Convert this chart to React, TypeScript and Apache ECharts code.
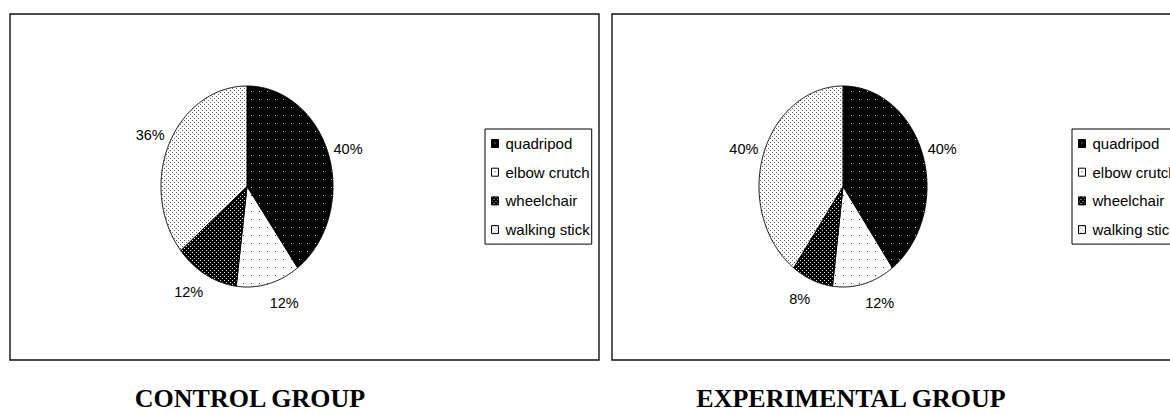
import React, { useEffect, useRef } from "react";
import * as echarts from "echarts";

// Mobility aid used, share of patients per group (%)
const categories = ["quadripod", "elbow crutch", "wheelchair", "walking stick"];
const controlValues = [40, 12, 12, 36];
const experimentalValues = [40, 12, 8, 40];
const groupTitles = ["CONTROL GROUP", "EXPERIMENTAL GROUP"];

const SANS = "'Liberation Sans', Arial, sans-serif";
const SERIF = "'Liberation Serif', 'Times New Roman', serif";

// Small dotted tiles used as fills for the slices
function makeTile(size: number, bg: string, dotColor: string, dots: number[][]) {
  const c = document.createElement("canvas");
  c.width = size;
  c.height = size;
  const ctx = c.getContext("2d")!;
  ctx.fillStyle = bg;
  ctx.fillRect(0, 0, size, size);
  ctx.fillStyle = dotColor;
  dots.forEach(([x, y]) => ctx.fillRect(x, y, 1, 1));
  return { image: c, repeat: "repeat" as const };
}

function buildFills() {
  return [
    makeTile(8, "#000000", "#d0d0d0", [[3, 3]]),
    makeTile(8, "#ffffff", "#404040", [[3, 3]]),
    makeTile(4, "#000000", "#e8e8e8", [[0, 0], [2, 2]]),
    makeTile(4, "#ffffff", "#606060", [[0, 0], [2, 2]]),
  ];
}

type Pie = { cx: number; cy: number; rx: number; ry: number };

function sliceSeries(values: number[], idx: number, pie: Pie, fill: any) {
  return {
    type: "custom",
    name: categories[idx],
    coordinateSystem: "none",
    silent: true,
    data: [values[idx]],
    itemStyle: { color: fill },
    renderItem: (_params: any, api: any) => {
      const total = values.reduce((a, b) => a + b, 0);
      const before = values.slice(0, idx).reduce((a, b) => a + b, 0);
      const v = api.value(0) as number;
      const a0 = (before / total) * Math.PI * 2;
      const a1 = ((before + v) / total) * Math.PI * 2;
      const pts: number[][] = [[pie.cx, pie.cy]];
      const steps = Math.max(2, Math.ceil(((a1 - a0) * 180) / Math.PI / 0.5));
      for (let i = 0; i <= steps; i++) {
        const a = a0 + ((a1 - a0) * i) / steps;
        pts.push([pie.cx + pie.rx * Math.sin(a), pie.cy - pie.ry * Math.cos(a)]);
      }
      const mid = (a0 + a1) / 2;
      const dx = Math.sin(mid);
      const dy = -Math.cos(mid);
      const ex = pie.cx + pie.rx * dx;
      const ey = pie.cy + pie.ry * dy;
      return {
        type: "group",
        children: [
          {
            type: "polygon",
            shape: { points: pts },
            style: { fill, stroke: "#000", lineWidth: 1 },
          },
          {
            type: "text",
            x: ex + 5 * dx,
            y: ey + 20 * dy,
            style: {
              text: `${v}%`,
              fill: "#000",
              font: `14.5px ${SANS}`,
              textAlign: dx >= 0 ? "left" : "right",
              textVerticalAlign: "middle",
            },
          },
        ],
      };
    },
  };
}

function legendFor(left: number) {
  return {
    orient: "vertical",
    left,
    top: 129,
    data: categories,
    icon: "rect",
    itemWidth: 7,
    itemHeight: 8,
    itemGap: 13.7,
    padding: [7, 2, 7, 6],
    borderColor: "#000",
    borderWidth: 1,
    selectedMode: false,
    itemStyle: { borderColor: "#000", borderWidth: 1 },
    textStyle: {
      color: "#000",
      fontSize: 15,
      fontFamily: SANS,
      padding: [0, 0, 0, 2],
    },
  };
}

export default function App() {
  const ref = useRef<HTMLDivElement>(null);

  useEffect(() => {
    if (!ref.current) return;
    const chart = echarts.init(ref.current, undefined, { renderer: "svg" });
    const fills = buildFills();
    const leftPie: Pie = { cx: 247, cy: 186.5, rx: 86, ry: 100.5 };
    const rightPie: Pie = { cx: 843, cy: 186.5, rx: 84, ry: 100.5 };

    const series = [
      ...categories.map((_, i) => sliceSeries(controlValues, i, leftPie, fills[i])),
      ...categories.map((_, i) => sliceSeries(experimentalValues, i, rightPie, fills[i])),
    ];

    chart.setOption({
      animation: false,
      backgroundColor: "#ffffff",
      legend: [legendFor(485), legendFor(1072)],
      graphic: [
        {
          type: "rect",
          shape: { x: 10, y: 14, width: 589, height: 346 },
          style: { fill: "none", stroke: "#111", lineWidth: 1.4 },
        },
        {
          type: "rect",
          shape: { x: 612, y: 14, width: 600, height: 346 },
          style: { fill: "none", stroke: "#111", lineWidth: 1.4 },
        },
        {
          type: "text",
          x: 250,
          y: 398,
          style: {
            text: groupTitles[0],
            fill: "#000",
            font: `bold 26px ${SERIF}`,
            textAlign: "center",
            textVerticalAlign: "middle",
          },
        },
        {
          type: "text",
          x: 851,
          y: 398,
          style: {
            text: groupTitles[1],
            fill: "#000",
            font: `bold 26px ${SERIF}`,
            textAlign: "center",
            textVerticalAlign: "middle",
          },
        },
      ],
      series,
    });

    return () => chart.dispose();
  }, []);

  return (
    <div
      ref={ref}
      style={{ position: "absolute", left: 0, top: 0, width: 1170, height: 414 }}
    />
  );
}
